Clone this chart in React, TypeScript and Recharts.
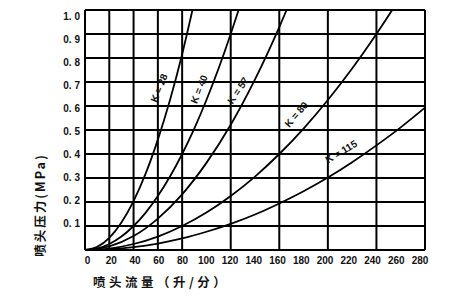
import React from 'react';
import {
  LineChart,
  Line,
  XAxis,
  YAxis,
  CartesianGrid,
  ReferenceDot,
} from 'recharts';

// flow (L/min) and pressure (MPa)
const k28Q = [0, 10, 20, 30, 40, 50, 60, 70, 80, 88.5];
const k28P = [0, 0.013, 0.051, 0.115, 0.204, 0.319, 0.46, 0.625, 0.816, 1.0];

const k40Q = [0, 10, 20, 30, 40, 50, 60, 70, 80, 90, 100, 110, 120, 126.5];
const k40P = [0, 0.006, 0.025, 0.056, 0.1, 0.156, 0.225, 0.306, 0.4, 0.506, 0.625, 0.756, 0.9, 1.0];

const k57Q = [0, 20, 40, 60, 80, 100, 120, 140, 160, 166];
const k57P = [0, 0.015, 0.058, 0.131, 0.232, 0.363, 0.522, 0.711, 0.929, 1.0];

const k80Q = [0, 20, 40, 60, 80, 100, 120, 140, 160, 180, 200, 220, 240, 253];
const k80P = [0, 0.006, 0.025, 0.056, 0.1, 0.156, 0.225, 0.306, 0.4, 0.506, 0.625, 0.756, 0.9, 1.0];

const k115Q = [0, 20, 40, 60, 80, 100, 120, 140, 160, 180, 200, 220, 240, 260, 280];
const k115P = [0, 0.003, 0.012, 0.027, 0.048, 0.076, 0.109, 0.148, 0.194, 0.245, 0.302, 0.366, 0.436, 0.511, 0.593];

const xTicks = [0, 20, 40, 60, 80, 100, 120, 140, 160, 180, 200, 220, 240, 260, 280];
const yGrid = [0, 0.1, 0.2, 0.3, 0.4, 0.5, 0.6, 0.7, 0.8, 0.9, 1.0];
const yTickValues = [0.1, 0.2, 0.3, 0.4, 0.5, 0.6, 0.7, 0.8, 0.9, 1.0];
const yTickLabels = ['0. 1', '0. 2', '0. 3', '0. 4', '0. 5', '0. 6', '0. 7', '0. 8', '0. 9', '1. 0'];

const curveNames = ['K = 28', 'K = 40', 'K = 57', 'K = 80', 'K = 115'];

const toRows = (q: number[], p: number[]) => q.map((v, i) => ({ q: v, p: p[i] }));
const curves = [
  toRows(k28Q, k28P),
  toRows(k40Q, k40P),
  toRows(k57Q, k57P),
  toRows(k80Q, k80P),
  toRows(k115Q, k115P),
];

// where each K label sits, in data units, and its tilt
const curveLabels = [
  { q: 61, p: 0.675, angle: -68 },
  { q: 94, p: 0.67, angle: -68 },
  { q: 126, p: 0.665, angle: -56 },
  { q: 174, p: 0.565, angle: -49 },
  { q: 211, p: 0.41, angle: -31 },
];

const tickFont = {
  fontFamily: '"Liberation Sans", Arial, sans-serif',
  fontSize: 10,
  fontWeight: 'bold' as const,
  fill: '#111',
};

const App = () => {
  return (
    <div style={{ position: 'absolute', left: 0, top: 0, background: '#fff' }}>
      <LineChart
        width={450}
        height={305}
        margin={{ top: 10, right: 25, bottom: 0, left: 0 }}
      >
        <XAxis xAxisId="q" type="number" dataKey="q" domain={[0, 280]} ticks={xTicks} hide />
        <YAxis yAxisId="p" type="number" domain={[0, 1]} ticks={yGrid} hide />
        <XAxis
          xAxisId="lab"
          type="number"
          dataKey="q"
          domain={[-2.1, 284.2]}
          ticks={xTicks}
          interval={0}
          height={55}
          axisLine={false}
          tickLine={false}
          tickSize={0}
          tickMargin={7}
          tick={tickFont}
          allowDataOverflow
          label={{
            content: (props: any) => {
              const vb = props.viewBox;
              return (
                <text
                  x={vb.x + 8}
                  y={vb.y + 31}
                  dominantBaseline="central"
                  fontFamily='"Noto Sans CJK SC", sans-serif'
                  fontWeight="bold"
                  fontSize={12.5}
                  letterSpacing={3.5}
                  fill="#111"
                >
                  喷头流量（升/分）
                </text>
              );
            },
          }}
        />
        <YAxis
          yAxisId="lab"
          type="number"
          domain={[-0.0174, 1.026]}
          ticks={yTickValues}
          interval={0}
          width={85}
          axisLine={false}
          tickLine={false}
          tickSize={0}
          tickMargin={5}
          tick={tickFont}
          allowDataOverflow
          tickFormatter={(v: number) => yTickLabels[yTickValues.indexOf(v)] ?? ''}
          label={{
            content: (props: any) => {
              const vb = props.viewBox;
              const cx = vb.x + 39;
              const cy = vb.y + 195;
              return (
                <text
                  x={cx}
                  y={cy}
                  textAnchor="middle"
                  dominantBaseline="central"
                  transform={`rotate(-90 ${cx} ${cy})`}
                  fontFamily='"Noto Sans CJK SC", sans-serif'
                  fontWeight="bold"
                  fontSize={12.5}
                  letterSpacing={2}
                  fill="#111"
                >
                  喷头压力(MPa)
                </text>
              );
            },
          }}
        />
        <CartesianGrid xAxisId="q" yAxisId="p" stroke="#000" strokeWidth={2} strokeOpacity={1} />
        {curves.map((rows, i) => (
          <Line
            key={curveNames[i]}
            xAxisId="q"
            yAxisId="p"
            data={rows}
            dataKey="p"
            type="monotone"
            stroke="#000"
            strokeWidth={1.8}
            dot={false}
            isAnimationActive={false}
          />
        ))}
        {curveLabels.map((l, i) => (
          <ReferenceDot
            key={curveNames[i]}
            xAxisId="q"
            yAxisId="p"
            x={l.q}
            y={l.p}
            r={0}
            shape={(props: any) => (
              <text
                x={props.cx}
                y={props.cy}
                textAnchor="middle"
                dominantBaseline="central"
                transform={`rotate(${l.angle} ${props.cx} ${props.cy})`}
                fontFamily='"Liberation Sans", Arial, sans-serif'
                fontWeight="bold"
                fontSize={10}
                fill="#111"
              >
                {curveNames[i]}
              </text>
            )}
          />
        ))}
      </LineChart>
    </div>
  );
};

export default App;
